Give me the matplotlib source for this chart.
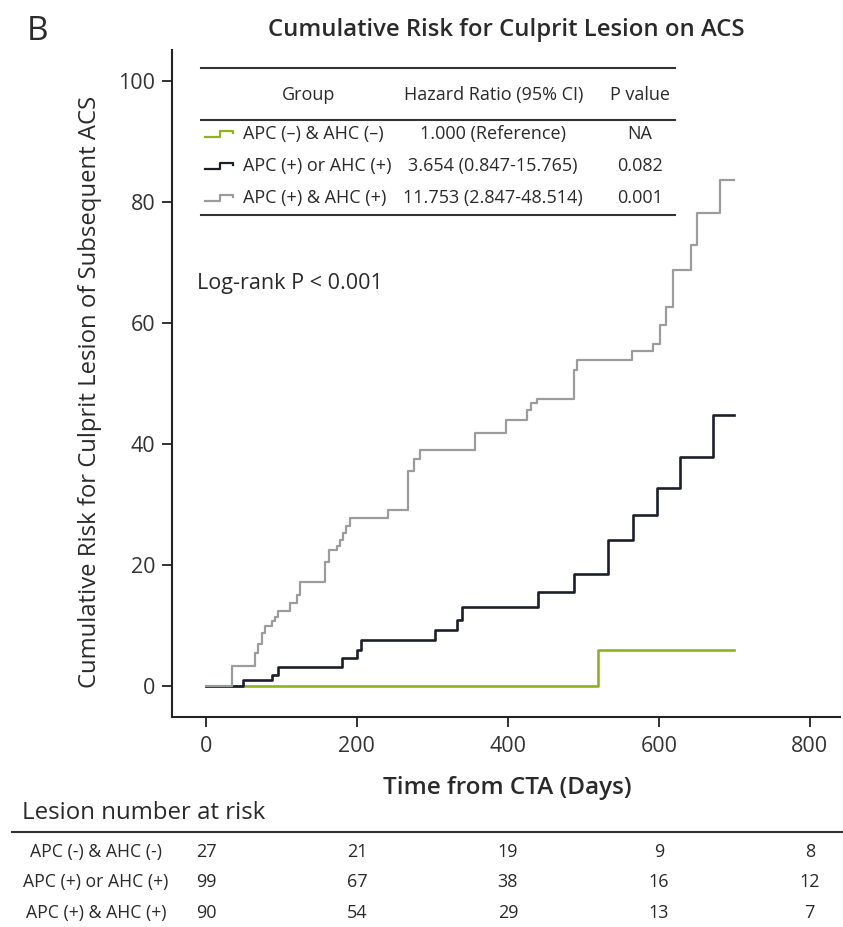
import matplotlib
matplotlib.use("Agg")
import matplotlib.pyplot as plt
from matplotlib.lines import Line2D
from matplotlib import transforms

plt.rcParams['font.family'] = ['Open Sans', 'DejaVu Sans']

#DATA
groups = ["APC (\u2013) & AHC (\u2013)", "APC (+) or AHC (+)", "APC (+) & AHC (+)"]
risk_labels = ["APC (-) & AHC (-)", "APC (+) or AHC (+)", "APC (+) & AHC (+)"]
hazard_ratios = ["1.000 (Reference)", "3.654 (0.847-15.765)", "11.753 (2.847-48.514)"]
p_values = ["NA", "0.082", "0.001"]

# step curves (time in days, cumulative risk %)
neg_days = [0, 519, 700]
neg_risk = [0, 5.9, 5.9]

one_days = [0, 49, 87, 96, 180, 200, 206, 303, 332, 339, 440, 487, 533, 566, 597, 628, 672, 700]
one_risk = [0, 1.0, 1.8, 3.2, 4.6, 6.0, 7.6, 9.3, 10.9, 13.1, 15.6, 18.6, 24.1, 28.3, 32.7, 37.9, 44.8, 44.8]

both_days = [0, 34, 65, 69, 74, 78, 87, 91, 96, 111, 120, 125, 158, 163, 173, 177, 182, 186, 191,
             241, 268, 275, 283, 356, 398, 425, 430, 438, 487, 491, 564, 592, 601, 610, 619, 643,
             650, 681, 700]
both_risk = [0, 3.3, 5.5, 7.0, 8.7, 9.9, 10.7, 11.5, 12.4, 13.8, 15.1, 17.2, 20.5, 22.5, 23.1, 24.2,
             25.3, 26.4, 27.8, 29.1, 35.5, 37.5, 39.0, 41.8, 44.0, 45.6, 46.7, 47.5, 52.2, 53.9, 55.3,
             56.6, 59.7, 62.7, 68.8, 72.9, 78.1, 83.6, 83.6]

risk_times = [0, 200, 400, 600, 800]
at_risk_neg = [27, 21, 19, 9, 8]
at_risk_one = [99, 67, 38, 16, 12]
at_risk_both = [90, 54, 29, 13, 7]

colors = ["#8db320", "#1c1f2b", "#9c9c9c"]
text_col = "#2a2a2a"

W, H = 843, 927
def fx(px):
    return px / W
def fy(py):
    return 1 - py / H

fig = plt.figure(figsize=(W / 100, H / 100), dpi=100)
ax = fig.add_axes([fx(172), fy(717), (840 - 172) / W, (717 - 50) / H])

ax.step(neg_days, neg_risk, where="post", color=colors[0], lw=1.9)
ax.step(one_days, one_risk, where="post", color=colors[1], lw=1.9)
ax.step(both_days, both_risk, where="post", color=colors[2], lw=1.6)

ax.set_xlim(-45, 840)
ax.set_ylim(-5.1, 105.1)
ax.set_xticks(risk_times)
ax.set_yticks([0, 20, 40, 60, 80, 100])
for s in ["top", "right"]:
    ax.spines[s].set_visible(False)
for s in ["left", "bottom"]:
    ax.spines[s].set_linewidth(1.5)
    ax.spines[s].set_color("#222222")
ax.tick_params(length=7, width=1.3, color="#222222", labelsize=15.5, labelcolor="#333333")
ax.tick_params(axis="y", pad=5)
ax.tick_params(axis="x", pad=7)

fig.text(fx(27), fy(32), "B", fontsize=24, va="center", ha="left", color=text_col)
fig.text(fx(506), fy(30), "Cumulative Risk for Culprit Lesion on ACS", fontsize=17.2,
         fontweight="semibold", ha="center", va="center", color=text_col)
fig.text(fx(90), fy(392), "Cumulative Risk for Culprit Lesion of Subsequent ACS", fontsize=17.2,
         rotation=90, ha="center", va="center", color=text_col)
fig.text(fx(507), fy(788), "Time from CTA (Days)", fontsize=17.5, fontweight="semibold",
         ha="center", va="center", color=text_col)

# hazard ratio table inside the plot
for py in [68, 120, 215]:
    fig.add_artist(Line2D([fx(201), fx(675)], [fy(py), fy(py)], color="#333333", lw=1.5))
fig.text(fx(309), fy(95), "Group", fontsize=13, ha="center", va="center", color=text_col)
fig.text(fx(494), fy(95), "Hazard Ratio (95% CI)", fontsize=13, ha="center", va="center", color=text_col)
fig.text(fx(640), fy(95), "P value", fontsize=13, ha="center", va="center", color=text_col)
row_y = [134, 166, 198]
for i in range(3):
    y = row_y[i]
    fig.add_artist(Line2D([fx(205), fx(220), fx(220), fx(233), fx(233)],
                          [fy(y + 3), fy(y + 3), fy(y - 3), fy(y - 3), fy(y - 1)],
                          color=colors[i], lw=1.6))
    fig.text(fx(243), fy(y), groups[i], fontsize=13, ha="left", va="center", color=text_col)
    fig.text(fx(493), fy(y), hazard_ratios[i], fontsize=13, ha="center", va="center", color=text_col)
    fig.text(fx(640), fy(y), p_values[i], fontsize=13, ha="center", va="center", color=text_col)

fig.text(fx(197), fy(283), "Log-rank P < 0.001", fontsize=15.5, ha="left", va="center", color=text_col)

# number at risk table
fig.text(fx(22), fy(813), "Lesion number at risk", fontsize=17.3, ha="left", va="center", color=text_col)
fig.add_artist(Line2D([fx(12), fx(843)], [fy(832), fy(832)], color="#333333", lw=1.5))
trans = transforms.blended_transform_factory(ax.transData, fig.transFigure)
risk_rows = [at_risk_neg, at_risk_one, at_risk_both]
risk_y = [852, 882, 913]
for i in range(3):
    fig.text(fx(96), fy(risk_y[i]), risk_labels[i], fontsize=12.7, ha="center", va="center", color=text_col)
    for t, n in zip(risk_times, risk_rows[i]):
        ax.text(t, fy(risk_y[i]), str(n), transform=trans, fontsize=13, ha="center", va="center",
                color=text_col, clip_on=False)

fig.savefig("out.png", dpi=100)
